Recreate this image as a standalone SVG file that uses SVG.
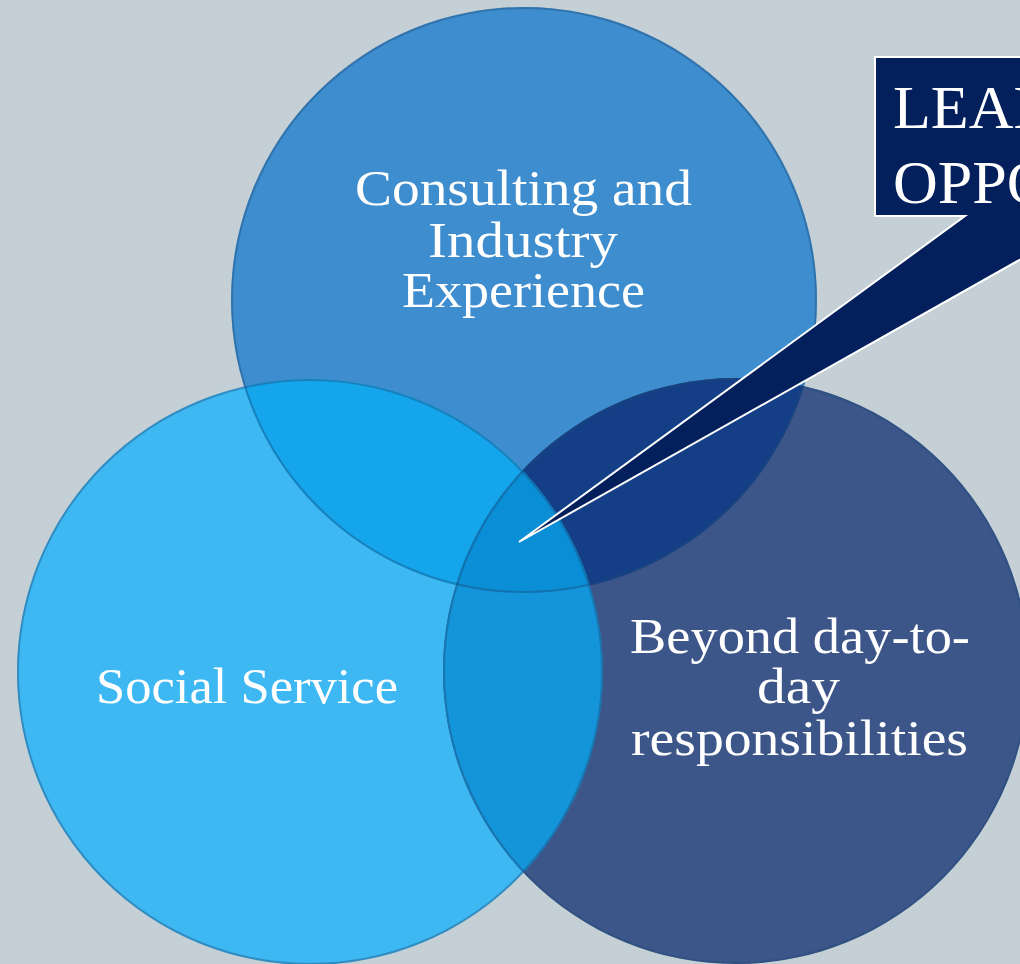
<svg xmlns="http://www.w3.org/2000/svg" width="1020" height="964" viewBox="0 0 1020 964">
  <defs>
    <style>
      .lbl { font-family: "Liberation Serif", "Times New Roman", serif; font-size: 50px; fill: #ffffff; text-anchor: middle; }
      .call { font-family: "Liberation Serif", "Times New Roman", serif; font-size: 62px; fill: #ffffff; }
      .rim { fill: none; stroke: #1d4a78; stroke-opacity: 0.4; stroke-width: 2; }
    </style>
    <clipPath id="cTop"><circle cx="524" cy="300" r="293"/></clipPath>
    <clipPath id="cLeft"><circle cx="310" cy="672" r="293"/></clipPath>
    <clipPath id="cRight"><circle cx="736" cy="671" r="293"/></clipPath>
  </defs>
  <rect width="1020" height="964" fill="#c5d0d6"/>

  <g id="circle-top">
    <circle cx="524" cy="300" r="293" fill="#3d8dcf"/>
  </g>
  <g id="circle-left">
    <circle cx="310" cy="672" r="293" fill="#3db8f2"/>
  </g>
  <g id="circle-right">
    <circle cx="736" cy="671" r="293" fill="#3c5689"/>
  </g>
  <g id="overlaps">
    <g clip-path="url(#cTop)"><circle cx="310" cy="672" r="293" fill="#14a5eb"/></g>
    <g clip-path="url(#cTop)"><circle cx="736" cy="671" r="293" fill="#143f86"/></g>
    <g clip-path="url(#cLeft)"><circle cx="736" cy="671" r="293" fill="#1495d9"/></g>
    <g clip-path="url(#cLeft)"><g clip-path="url(#cTop)"><circle cx="736" cy="671" r="293" fill="#0a8ed6"/></g></g>
  </g>
  <g id="rims">
    <circle class="rim" cx="524" cy="300" r="292"/>
    <circle class="rim" cx="310" cy="672" r="292" stroke="#2a9fd8"/>
    <circle class="rim" cx="736" cy="671" r="292"/>
  </g>

  <g id="label-top">
    <text class="lbl" x="523.5" y="205" textLength="337" lengthAdjust="spacingAndGlyphs">Consulting and</text>
    <text class="lbl" x="523" y="257" textLength="190" lengthAdjust="spacingAndGlyphs">Industry</text>
    <text class="lbl" x="523.5" y="307" textLength="243" lengthAdjust="spacingAndGlyphs">Experience</text>
  </g>
  <g id="label-left">
    <text class="lbl" x="247" y="703" textLength="302" lengthAdjust="spacingAndGlyphs">Social Service</text>
  </g>
  <g id="label-right">
    <text class="lbl" x="800" y="653" textLength="340" lengthAdjust="spacingAndGlyphs">Beyond day-to-</text>
    <text class="lbl" x="798.5" y="703" textLength="83" lengthAdjust="spacingAndGlyphs">day</text>
    <text class="lbl" x="799.5" y="755" textLength="337" lengthAdjust="spacingAndGlyphs">responsibilities</text>
  </g>

  <g id="connectors"></g>

  <g id="callout">
    <path d="M875,57 H1030 V254 L519,542 L965,216 H875 Z" fill="#031f5c" stroke="#ffffff" stroke-width="2" stroke-linejoin="miter"/>
    <text class="call" x="893" y="128">LEADERSHIP</text>
    <text class="call" x="893" y="203">OPPORTUNITIES</text>
  </g>
</svg>
